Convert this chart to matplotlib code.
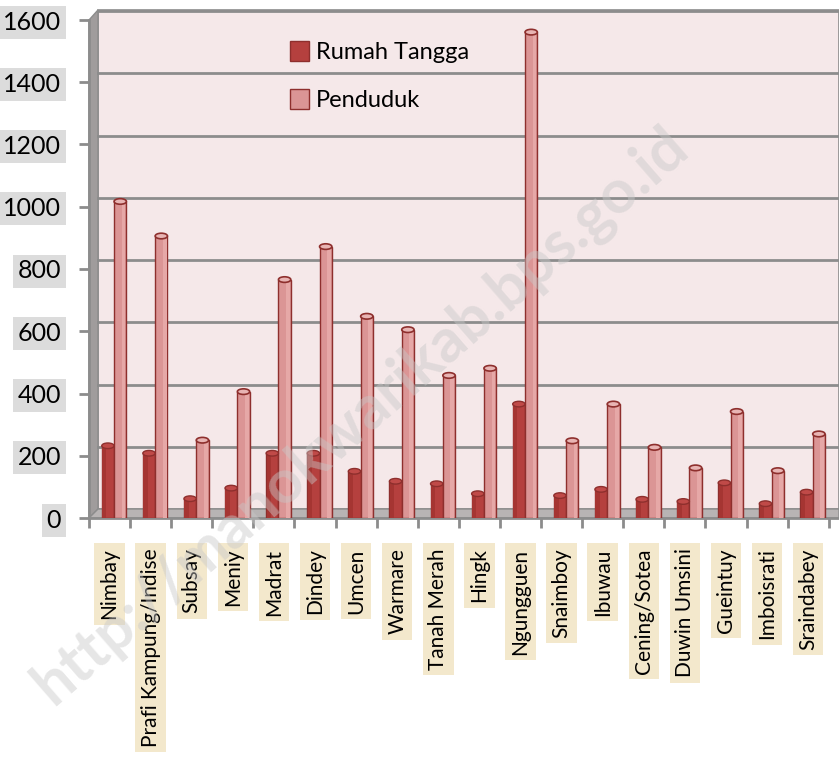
import matplotlib.pyplot as plt
from matplotlib.patches import Rectangle, Polygon, Ellipse
import numpy as np

# data
desa = ['Nimbay', 'Prafi Kampung/Indise', 'Subsay', 'Meniy', 'Madrat', 'Dindey',
        'Umcen', 'Warmare', 'Tanah Merah', 'Hingk', 'Ngungguen', 'Snaimboy',
        'Ibuwau', 'Cening/Sotea', 'Duwin Umsini', 'Gueintuy', 'Imboisrati', 'Sraindabey']
rumah_tangga = [232, 208, 62, 96, 208, 208, 150, 118, 110, 78, 366, 72, 92, 60, 53, 113, 46, 83]
penduduk = [1017, 906, 250, 406, 766, 872, 648, 605, 458, 481, 1561, 248, 366, 227, 161, 342, 152, 270]
yticks = [0, 200, 400, 600, 800, 1000, 1200, 1400, 1600]

W, H = 839, 770
fig = plt.figure(figsize=(W / 100, H / 100), dpi=100)
plt.rcParams['font.family'] = ['Lato', 'DejaVu Sans']

def fx(x):
    return x / W

def fy(y):
    return 1 - y / H

# 3D-ish walls (pixel positions)
wall = Rectangle((fx(98), fy(509)), fx(839) - fx(98), fy(10) - fy(509),
                 transform=fig.transFigure, facecolor='#f5e8e9', edgecolor='#8c8c8c', lw=1.2, zorder=0)
fig.patches.append(wall)
left_wall = Polygon([(fx(89), fy(518)), (fx(89), fy(20)), (fx(98), fy(10)), (fx(98), fy(509))],
                    closed=True, transform=fig.transFigure, facecolor='#a09c9c', edgecolor='#8c8c8c', zorder=0)
fig.patches.append(left_wall)
floor = Polygon([(fx(89), fy(518)), (fx(98), fy(509)), (fx(839), fy(509)), (fx(839), fy(518))],
                closed=True, transform=fig.transFigure, facecolor='#b8b4b4', edgecolor='#8c8c8c', zorder=0)
fig.patches.append(floor)

# gridlines on the back wall
for v in yticks[1:]:
    y = 518 - v * 498 / 1600 - 9
    fig.add_artist(plt.Line2D([fx(98), fx(839)], [fy(y), fy(y)], transform=fig.transFigure,
                              color='#8c8c8c', lw=2, zorder=0.5))

ax = fig.add_axes([fx(89), fy(518), fx(839) - fx(89), fy(20) - fy(518)])
ax.set_zorder(3)
ax.set_facecolor('none')
ax.set_ylim(0, 1600)
ax.set_xlim(-0.5, 17.75)

x = np.arange(len(desa))
bw = 0.3
c_rt, c_pd, c_edge = '#b5403e', '#db9595', '#8e2f2d'
ax.bar(x - 0.04, rumah_tangga, bw, color=c_rt, edgecolor=c_edge, lw=1, zorder=2, label='Rumah Tangga')
ax.bar(x + 0.26, penduduk, bw, color=c_pd, edgecolor=c_edge, lw=1, zorder=2, label='Penduduk')
# cylinder caps and shading
for i in range(len(desa)):
    ax.add_patch(Rectangle((x[i] - 0.04 - bw / 2 + 0.01, 0), bw * 0.35, rumah_tangga[i], color='#a53532', lw=0, zorder=2.1))
    ax.add_patch(Rectangle((x[i] + 0.26 + bw * 0.12, 0), bw * 0.3, penduduk[i], color='#e6a8a7', lw=0, zorder=2.1))
    ax.add_patch(Ellipse((x[i] - 0.04, rumah_tangga[i]), bw, 18, facecolor='#c04a48', edgecolor=c_edge, lw=1, zorder=3))
    ax.add_patch(Ellipse((x[i] + 0.26, penduduk[i]), bw, 18, facecolor='#e8b4b3', edgecolor=c_edge, lw=1.2, zorder=3))

for s in ['top', 'right', 'bottom', 'left']:
    ax.spines[s].set_visible(False)

ax.set_yticks(yticks)
ax.set_yticklabels([str(v) for v in yticks], fontsize=18)
ax.tick_params(axis='y', length=7, width=2, color='#8c8c8c', pad=13)
for lab in ax.get_yticklabels():
    lab.set_bbox(dict(boxstyle='square,pad=0.2', facecolor='#dcdcdc', edgecolor='none'))

ax.set_xticks(x)
ax.set_xticklabels(desa, rotation=90, fontsize=15, va='top')
ax.set_xticks(np.arange(len(desa) + 1) - 0.5, minor=True)
ax.tick_params(axis='x', which='major', length=0, pad=22)
ax.tick_params(axis='x', which='minor', length=7, width=2, color='#8c8c8c')
for lab in ax.get_xticklabels():
    lab.set_bbox(dict(boxstyle='square,pad=0.25', facecolor='#f3e8cc', edgecolor='none'))

ax.plot([-0.5, 17.75], [0, 0], color='#8c8c8c', lw=2, clip_on=False, zorder=1)
ax.plot([-0.5, -0.5], [0, 1600], color='#8c8c8c', lw=2, clip_on=False, zorder=1)

ax.legend(loc='upper left', bbox_to_anchor=(0.24, 1.0), frameon=False, fontsize=17,
          handlelength=0.8, handleheight=0.9, handletextpad=0.3, labelspacing=1.1)

# watermark
fig.text(0.43, 0.46, 'http://manokwarikab.bps.go.id', rotation=41, fontsize=44, fontweight='bold',
         color='#c8c8c8', alpha=0.45, ha='center', va='center', zorder=5)

fig.savefig('out.png', dpi=100)
